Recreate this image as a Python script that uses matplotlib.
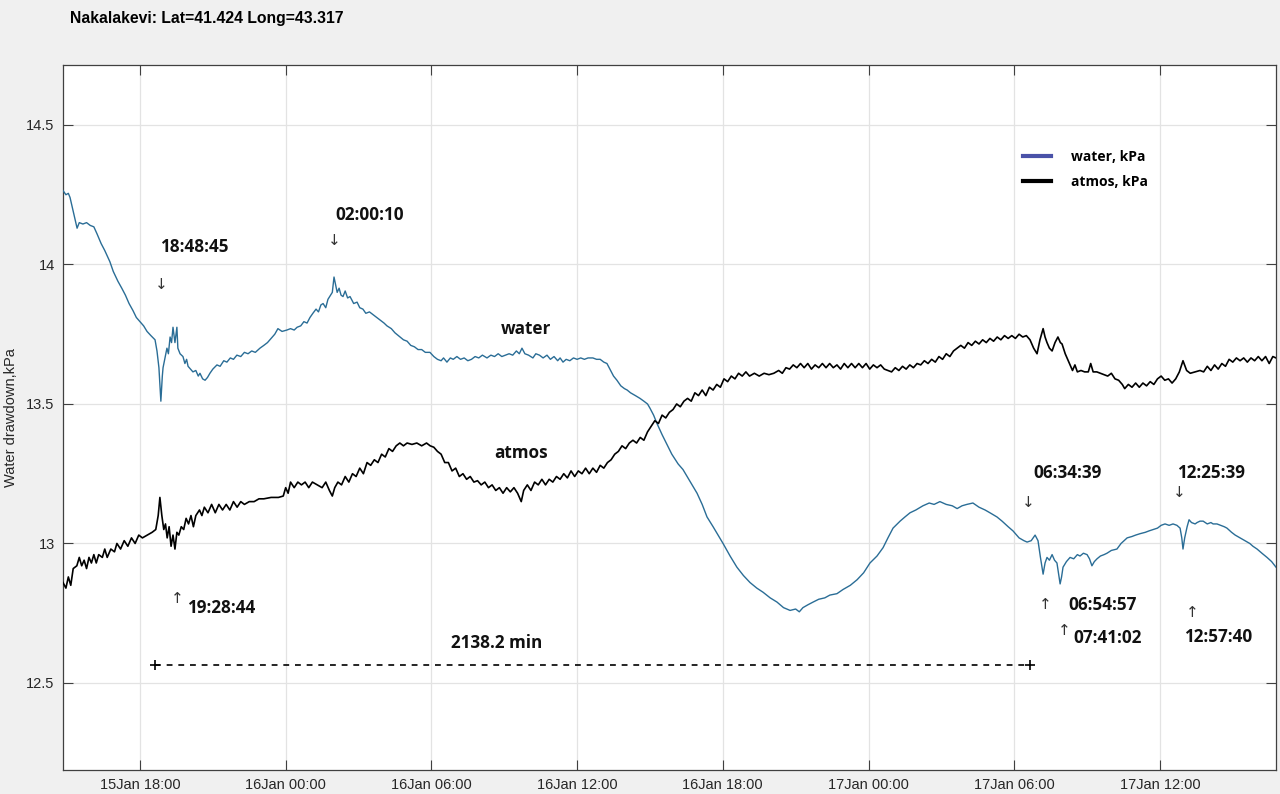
import numpy as np
import pandas as pd
import matplotlib
matplotlib.use("Agg")
import matplotlib.pyplot as plt
import matplotlib.dates as mdates
from matplotlib.lines import Line2D

# ---------------- data (hours since 15 Jan 00:00, kPa) ----------------
water_hours = [
    14.83, 14.95, 15.05, 15.12, 15.25, 15.35, 15.41, 15.50, 15.65, 15.80,
    15.95, 16.10, 16.23, 16.40, 16.55, 16.76, 16.90, 17.09, 17.25, 17.40,
    17.55, 17.71, 17.85, 18.00, 18.15, 18.29, 18.45, 18.62, 18.70, 18.78,
    18.86, 18.92, 18.95, 19.02, 19.11, 19.17, 19.24, 19.30, 19.36, 19.44,
    19.52, 19.56, 19.65, 19.77, 19.85, 19.92, 19.98, 20.08, 20.18, 20.30,
    20.40, 20.47, 20.58, 20.68, 20.78, 20.88, 21.00, 21.17, 21.30, 21.45,
    21.58, 21.72, 21.85, 21.99, 22.15, 22.30, 22.45, 22.60, 22.75, 22.94,
    23.10, 23.25, 23.40, 23.55, 23.68, 23.85, 24.05, 24.20, 24.35, 24.47,
    24.62, 24.75, 24.88, 25.00, 25.12, 25.25, 25.35, 25.45, 25.54, 25.65,
    25.74, 25.85, 25.92, 25.99, 26.05, 26.12, 26.20, 26.28, 26.36, 26.45,
    26.55, 26.65, 26.80, 26.94, 27.05, 27.18, 27.30, 27.45, 27.60, 27.75,
    27.90, 28.05, 28.17, 28.35, 28.50, 28.71, 28.85, 29.00, 29.15, 29.30,
    29.45, 29.60, 29.75, 29.94, 30.10, 30.25, 30.40, 30.50, 30.64, 30.78,
    30.90, 31.05, 31.20, 31.35, 31.50, 31.65, 31.80, 31.95, 32.10, 32.29,
    32.45, 32.60, 32.75, 32.90, 33.05, 33.20, 33.35, 33.50, 33.62, 33.73,
    33.85, 34.00, 34.18, 34.30, 34.45, 34.60, 34.76, 34.90, 35.05, 35.20,
    35.30, 35.42, 35.55, 35.70, 35.85, 36.00, 36.15, 36.30, 36.45, 36.65,
    36.80, 36.95, 37.10, 37.23, 37.35, 37.50, 37.64, 37.80, 37.95, 38.06,
    38.20, 38.40, 38.59, 38.75, 38.90, 39.00, 39.15, 39.29, 39.50, 39.70,
    39.90, 40.16, 40.36, 40.60, 40.94, 41.15, 41.35, 41.60, 42.01, 42.30,
    42.58, 42.85, 43.12, 43.40, 43.66, 43.95, 44.23, 44.50, 44.77, 45.00,
    45.15, 45.30, 45.50, 45.72, 45.95, 46.20, 46.41, 46.70, 46.95, 47.25,
    47.53, 47.80, 48.06, 48.35, 48.60, 48.80, 49.01, 49.30, 49.50, 49.71,
    49.95, 50.24, 50.50, 50.70, 50.94, 51.20, 51.45, 51.65, 51.85, 52.05,
    52.30, 52.55, 52.80, 53.00, 53.29, 53.50, 53.75, 53.95, 54.20, 54.40,
    54.53, 54.70, 54.86, 54.98, 55.08, 55.19, 55.27, 55.35, 55.45, 55.56,
    55.66, 55.76, 55.83, 55.89, 55.95, 56.01, 56.15, 56.30, 56.45, 56.60,
    56.71, 56.85, 57.00, 57.10, 57.20, 57.30, 57.41, 57.55, 57.70, 57.82,
    58.00, 58.23, 58.40, 58.65, 58.85, 59.00, 59.18, 59.40, 59.55, 59.72,
    59.90, 60.05, 60.21, 60.38, 60.54, 60.70, 60.83, 60.90, 60.95, 61.02,
    61.12, 61.20, 61.30, 61.45, 61.53, 61.65, 61.78, 61.95, 62.10, 62.19,
    62.35, 62.50, 62.65, 62.76, 62.95, 63.10, 63.30, 63.50, 63.70, 63.83,
    64.00, 64.20, 64.41, 64.60, 64.78]
water_kpa = [
    14.265, 14.25, 14.255, 14.24, 14.19, 14.15, 14.13, 14.15, 14.145, 14.15,
    14.14, 14.135, 14.11, 14.075, 14.05, 14.01, 13.975, 13.94, 13.915, 13.89,
    13.86, 13.835, 13.81, 13.795, 13.78, 13.76, 13.745, 13.73, 13.69, 13.63,
    13.51, 13.60, 13.63, 13.66, 13.70, 13.68, 13.74, 13.72, 13.775, 13.72,
    13.775, 13.70, 13.68, 13.67, 13.645, 13.66, 13.635, 13.625, 13.615, 13.62,
    13.60, 13.61, 13.59, 13.585, 13.595, 13.61, 13.625, 13.64, 13.635, 13.655,
    13.65, 13.665, 13.66, 13.675, 13.67, 13.685, 13.68, 13.69, 13.685, 13.70,
    13.71, 13.72, 13.735, 13.75, 13.77, 13.76, 13.765, 13.77, 13.765, 13.775,
    13.78, 13.795, 13.79, 13.81, 13.825, 13.84, 13.83, 13.855, 13.86, 13.845,
    13.875, 13.89, 13.90, 13.955, 13.93, 13.90, 13.915, 13.89, 13.885, 13.905,
    13.88, 13.885, 13.86, 13.865, 13.845, 13.84, 13.825, 13.83, 13.82, 13.81,
    13.80, 13.79, 13.78, 13.77, 13.755, 13.74, 13.73, 13.725, 13.71, 13.705,
    13.695, 13.695, 13.685, 13.685, 13.67, 13.66, 13.655, 13.665, 13.65, 13.665,
    13.66, 13.67, 13.66, 13.665, 13.655, 13.66, 13.67, 13.665, 13.675, 13.665,
    13.675, 13.67, 13.68, 13.67, 13.675, 13.68, 13.675, 13.69, 13.68, 13.70,
    13.68, 13.675, 13.665, 13.68, 13.675, 13.665, 13.675, 13.66, 13.67, 13.655,
    13.665, 13.65, 13.66, 13.655, 13.665, 13.66, 13.665, 13.66, 13.665, 13.665,
    13.66, 13.66, 13.65, 13.645, 13.625, 13.60, 13.585, 13.565, 13.555, 13.55,
    13.54, 13.53, 13.52, 13.51, 13.50, 13.485, 13.46, 13.43, 13.39, 13.355,
    13.32, 13.285, 13.265, 13.23, 13.18, 13.14, 13.095, 13.06, 13.0, 12.955,
    12.915, 12.885, 12.86, 12.84, 12.825, 12.805, 12.79, 12.77, 12.76, 12.765,
    12.755, 12.77, 12.78, 12.79, 12.80, 12.805, 12.815, 12.82, 12.835, 12.85,
    12.87, 12.895, 12.93, 12.955, 12.985, 13.02, 13.055, 13.08, 13.095, 13.11,
    13.12, 13.135, 13.145, 13.14, 13.15, 13.14, 13.135, 13.125, 13.135, 13.14,
    13.145, 13.13, 13.12, 13.11, 13.095, 13.08, 13.06, 13.045, 13.02, 13.01,
    13.005, 13.01, 13.03, 13.01, 12.95, 12.89, 12.93, 12.95, 12.94, 12.96,
    12.94, 12.93, 12.89, 12.855, 12.88, 12.915, 12.935, 12.95, 12.945, 12.96,
    12.955, 12.965, 12.96, 12.945, 12.92, 12.935, 12.945, 12.955, 12.96, 12.965,
    12.975, 12.98, 13.00, 13.02, 13.025, 13.03, 13.035, 13.04, 13.045, 13.05,
    13.055, 13.065, 13.07, 13.065, 13.07, 13.065, 13.055, 13.02, 12.98, 13.02,
    13.06, 13.085, 13.075, 13.07, 13.075, 13.08, 13.08, 13.07, 13.075, 13.07,
    13.07, 13.065, 13.06, 13.055, 13.04, 13.03, 13.02, 13.01, 13.00, 12.99,
    12.98, 12.965, 12.95, 12.935, 12.915]

atmos_hours = [
    14.83, 14.95, 15.05, 15.15, 15.25, 15.40, 15.50, 15.60, 15.70, 15.80,
    15.90, 16.00, 16.10, 16.20, 16.30, 16.45, 16.55, 16.65, 16.80, 16.95,
    17.05, 17.20, 17.35, 17.50, 17.65, 17.80, 17.95, 18.10, 18.30, 18.50,
    18.65, 18.75, 18.82, 18.90, 18.98, 19.05, 19.12, 19.20, 19.28, 19.36,
    19.44, 19.52, 19.60, 19.70, 19.80, 19.90, 20.00, 20.10, 20.20, 20.30,
    20.45, 20.55, 20.65, 20.80, 20.95, 21.10, 21.25, 21.40, 21.55, 21.70,
    21.85, 22.00, 22.15, 22.30, 22.50, 22.70, 22.90, 23.10, 23.40, 23.70,
    23.90, 24.00, 24.10, 24.20, 24.35, 24.50, 24.65, 24.80, 24.95, 25.10,
    25.30, 25.50, 25.65, 25.80, 25.92, 26.02, 26.15, 26.30, 26.45, 26.60,
    26.75, 26.90, 27.05, 27.20, 27.35, 27.50, 27.65, 27.80, 27.95, 28.10,
    28.25, 28.40, 28.55, 28.70, 28.85, 29.00, 29.20, 29.40, 29.60, 29.80,
    29.95, 30.10, 30.25, 30.40, 30.55, 30.70, 30.85, 31.00, 31.15, 31.30,
    31.45, 31.60, 31.75, 31.90, 32.05, 32.20, 32.35, 32.50, 32.65, 32.80,
    32.95, 33.10, 33.25, 33.40, 33.55, 33.70, 33.80, 33.95, 34.10, 34.25,
    34.40, 34.55, 34.70, 34.85, 35.00, 35.15, 35.30, 35.45, 35.60, 35.75,
    35.90, 36.05, 36.20, 36.35, 36.50, 36.65, 36.80, 36.95, 37.10, 37.25,
    37.40, 37.55, 37.70, 37.85, 38.00, 38.15, 38.30, 38.45, 38.60, 38.75,
    38.90, 39.05, 39.20, 39.35, 39.50, 39.65, 39.80, 39.95, 40.10, 40.25,
    40.40, 40.55, 40.70, 40.85, 41.00, 41.15, 41.30, 41.45, 41.60, 41.75,
    41.90, 42.05, 42.20, 42.35, 42.50, 42.65, 42.80, 42.95, 43.10, 43.30,
    43.50, 43.70, 43.90, 44.10, 44.30, 44.45, 44.60, 44.75, 44.90, 45.05,
    45.20, 45.35, 45.50, 45.65, 45.80, 45.95, 46.10, 46.25, 46.40, 46.55,
    46.70, 46.85, 47.00, 47.15, 47.30, 47.45, 47.60, 47.75, 47.90, 48.05,
    48.20, 48.35, 48.50, 48.65, 48.80, 48.95, 49.10, 49.25, 49.40, 49.55,
    49.70, 49.85, 50.00, 50.15, 50.30, 50.45, 50.60, 50.75, 50.90, 51.05,
    51.20, 51.35, 51.50, 51.65, 51.80, 51.95, 52.10, 52.25, 52.40, 52.55,
    52.70, 52.85, 53.00, 53.15, 53.30, 53.45, 53.60, 53.75, 53.90, 54.05,
    54.20, 54.35, 54.50, 54.65, 54.80, 54.94, 55.06, 55.19, 55.27, 55.35,
    55.45, 55.56, 55.68, 55.80, 55.90, 55.97, 56.10, 56.20, 56.30, 56.40,
    56.50, 56.60, 56.75, 56.90, 57.05, 57.15, 57.25, 57.40, 57.55, 57.70,
    57.85, 58.00, 58.15, 58.30, 58.45, 58.55, 58.70, 58.85, 59.00, 59.15,
    59.30, 59.45, 59.60, 59.75, 59.90, 60.05, 60.20, 60.35, 60.50, 60.65,
    60.80, 60.95, 61.10, 61.25, 61.45, 61.65, 61.80, 61.95, 62.10, 62.25,
    62.40, 62.55, 62.70, 62.85, 63.00, 63.15, 63.30, 63.45, 63.60, 63.75,
    63.90, 64.05, 64.20, 64.35, 64.50, 64.65, 64.78]
atmos_kpa = [
    12.86, 12.84, 12.88, 12.85, 12.91, 12.92, 12.95, 12.92, 12.94, 12.91,
    12.95, 12.93, 12.96, 12.93, 12.96, 12.95, 12.98, 12.95, 12.98, 12.97,
    13.00, 12.98, 13.01, 12.99, 13.02, 13.00, 13.03, 13.02, 13.03, 13.04,
    13.05, 13.10, 13.165, 13.10, 13.05, 13.07, 13.02, 13.06, 12.99, 13.03,
    12.98, 13.04, 13.03, 13.06, 13.05, 13.09, 13.07, 13.10, 13.06, 13.10,
    13.12, 13.10, 13.13, 13.11, 13.14, 13.11, 13.14, 13.12, 13.14, 13.12,
    13.15, 13.13, 13.15, 13.14, 13.15, 13.15, 13.16, 13.16, 13.165, 13.165,
    13.17, 13.20, 13.18, 13.22, 13.20, 13.22, 13.21, 13.22, 13.20, 13.22,
    13.21, 13.20, 13.22, 13.19, 13.17, 13.20, 13.22, 13.21, 13.24, 13.22,
    13.25, 13.24, 13.27, 13.25, 13.29, 13.28, 13.30, 13.29, 13.32, 13.31,
    13.34, 13.33, 13.35, 13.36, 13.35, 13.36, 13.355, 13.36, 13.35, 13.36,
    13.35, 13.345, 13.33, 13.32, 13.29, 13.29, 13.26, 13.27, 13.24, 13.25,
    13.23, 13.24, 13.22, 13.225, 13.21, 13.22, 13.20, 13.21, 13.19, 13.20,
    13.18, 13.20, 13.185, 13.20, 13.18, 13.15, 13.19, 13.21, 13.19, 13.22,
    13.21, 13.23, 13.21, 13.23, 13.22, 13.24, 13.23, 13.25, 13.235, 13.26,
    13.24, 13.26, 13.25, 13.27, 13.25, 13.27, 13.255, 13.28, 13.27, 13.29,
    13.30, 13.32, 13.33, 13.35, 13.34, 13.36, 13.37, 13.36, 13.38, 13.37,
    13.40, 13.42, 13.44, 13.43, 13.46, 13.45, 13.47, 13.48, 13.50, 13.49,
    13.51, 13.52, 13.51, 13.54, 13.53, 13.55, 13.53, 13.56, 13.55, 13.57,
    13.56, 13.59, 13.58, 13.60, 13.59, 13.61, 13.60, 13.615, 13.60, 13.61,
    13.60, 13.61, 13.605, 13.61, 13.62, 13.61, 13.63, 13.625, 13.64, 13.63,
    13.645, 13.63, 13.645, 13.625, 13.64, 13.63, 13.645, 13.63, 13.645, 13.63,
    13.64, 13.625, 13.645, 13.63, 13.645, 13.63, 13.645, 13.63, 13.645, 13.625,
    13.64, 13.63, 13.64, 13.625, 13.62, 13.615, 13.63, 13.62, 13.635, 13.625,
    13.64, 13.63, 13.645, 13.64, 13.655, 13.645, 13.66, 13.65, 13.67, 13.66,
    13.68, 13.67, 13.69, 13.70, 13.71, 13.70, 13.72, 13.71, 13.725, 13.715,
    13.73, 13.72, 13.735, 13.725, 13.74, 13.73, 13.745, 13.735, 13.745, 13.735,
    13.75, 13.74, 13.745, 13.73, 13.70, 13.68, 13.73, 13.77, 13.74, 13.72,
    13.70, 13.69, 13.72, 13.74, 13.72, 13.715, 13.68, 13.66, 13.64, 13.62,
    13.64, 13.615, 13.62, 13.615, 13.615, 13.645, 13.615, 13.615, 13.61, 13.605,
    13.60, 13.61, 13.59, 13.585, 13.57, 13.555, 13.57, 13.56, 13.575, 13.56,
    13.575, 13.565, 13.58, 13.57, 13.59, 13.60, 13.585, 13.59, 13.575, 13.59,
    13.615, 13.655, 13.62, 13.61, 13.615, 13.62, 13.615, 13.635, 13.62, 13.64,
    13.625, 13.645, 13.635, 13.66, 13.65, 13.665, 13.655, 13.665, 13.65, 13.665,
    13.655, 13.67, 13.655, 13.67, 13.645, 13.67, 13.665]

# annotations: (label, hour, value)
time_labels = [("18:48:45", 18.82, 14.061), ("02:00:10", 26.03, 14.179),
               ("19:28:44", 19.94, 12.767), ("06:34:39", 54.77, 13.254),
               ("12:25:39", 60.70, 13.254), ("06:54:57", 56.22, 12.778),
               ("07:41:02", 56.42, 12.660), ("12:57:40", 61.00, 12.663)]
down_arrows = [(18.86, 13.93), (25.99, 14.086), (54.58, 13.147), (60.78, 13.183)]
up_arrows = [(19.52, 12.803), (55.27, 12.781), (56.05, 12.688), (61.32, 12.753)]
span_hours = [18.62, 54.65]
span_level = 12.563
span_label = "2138.2 min"

xlim_hours = [14.83, 64.78]
ylim = [12.188, 14.715]
yticks = [12.5, 13, 13.5, 14, 14.5]
ytick_labels = ["12.5", "13", "13.5", "14", "14.5"]

base = pd.Timestamp("2024-01-15 00:00")
def to_dt(h):
    return base + pd.to_timedelta(np.asarray(h, dtype=float), unit="h")

# ---------------- figure ----------------
fig = plt.figure(figsize=(12.8, 7.94), dpi=100, facecolor="#f0f0f0")
ax = fig.add_axes([63/1280, 1-770/794, (1276-63)/1280, (770-65)/794])
ax.set_facecolor("white")

water_col = "#2a6d96"
ax.plot(to_dt(water_hours), water_kpa, color=water_col, lw=1.0, zorder=3)
ax.plot(to_dt(atmos_hours), atmos_kpa, color="black", lw=1.2, zorder=3)

ax.set_xlim(to_dt(xlim_hours[0]), to_dt(xlim_hours[1]))
ax.set_ylim(*ylim)
ax.set_yticks(yticks)
ax.set_yticklabels(ytick_labels)
ax.xaxis.set_major_locator(mdates.HourLocator(byhour=[0, 6, 12, 18]))
ax.xaxis.set_major_formatter(mdates.DateFormatter("%d%b %H:%M"))

ax.grid(True, color="#e3e3e3", lw=0.9)
ax.set_axisbelow(True)
ax.tick_params(direction="in", length=7, width=0.8, color="#404040",
               labelsize=10.5, labelcolor="#262626", top=True, right=True, pad=6)
for s in ax.spines.values():
    s.set_color("#404040")
    s.set_linewidth(0.9)
ax.set_ylabel("Water drawdown,kPa", fontsize=10.5, color="#262626",
              family="Liberation Sans")
ax.yaxis.set_label_coords(-0.037, 0.5)
for lab in ax.get_xticklabels() + ax.get_yticklabels():
    lab.set_family("Liberation Sans")

fig.text(70/1280, 1-18/794, "Nakalakevi: Lat=41.424 Long=43.317", fontsize=11.3,
         fontweight="bold", family="Liberation Sans", va="center", ha="left")

bold = dict(fontsize=12.3, fontweight="bold", family="Open Sans", color="#111111")
for lab, h, v in time_labels:
    ax.text(to_dt(h), v, lab, ha="left", va="center", **bold)
for h, v in down_arrows:
    ax.text(to_dt(h), v, "\u2193", ha="center", va="center", fontsize=11,
            color="#333333", family="DejaVu Sans")
for h, v in up_arrows:
    ax.text(to_dt(h), v, "\u2191", ha="center", va="center", fontsize=11,
            color="#333333", family="DejaVu Sans")

ax.text(to_dt(33.90), 13.77, "water", ha="center", va="center", **bold)
ax.text(to_dt(33.69), 13.326, "atmos", ha="center", va="center", **bold)

ax.plot(to_dt(span_hours), [span_level, span_level], ls=(0, (3.5, 3.5)),
        color="black", lw=1.2, marker="+", markersize=7, mew=1.2)
ax.text(to_dt(32.70), 12.645, span_label, ha="center", va="center", **bold)

handles = [Line2D([], [], color="#4a52a8", lw=3), Line2D([], [], color="black", lw=3)]
leg = ax.legend(handles, ["water, kPa", "atmos, kPa"], loc="upper left",
                bbox_to_anchor=(0.781, 0.897), frameon=False, handlelength=2.0,
                handletextpad=1.5, labelspacing=0.75,
                prop=dict(family="Open Sans", weight="bold", size=10))

fig.savefig("out.png", dpi=100, facecolor=fig.get_facecolor())
